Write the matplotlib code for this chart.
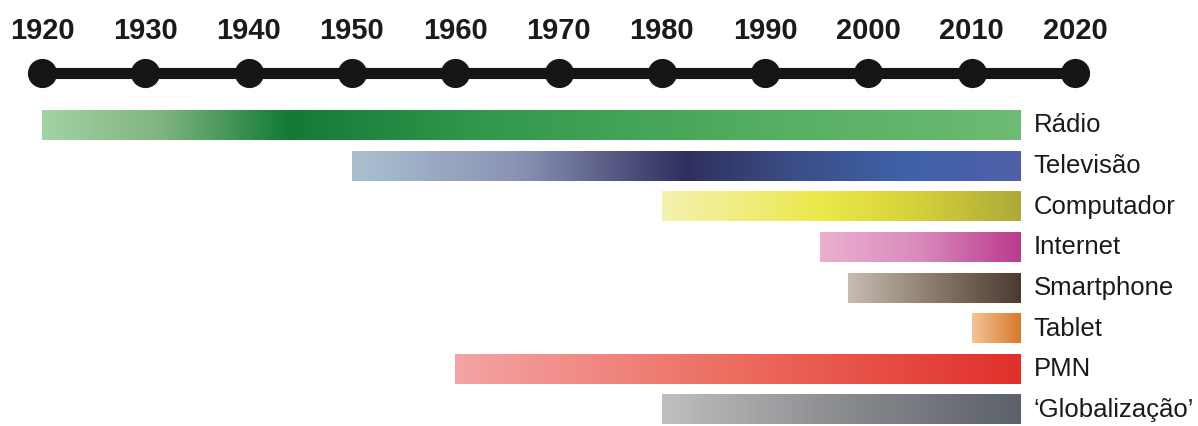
import numpy as np
import matplotlib.pyplot as plt
from matplotlib.colors import LinearSegmentedColormap

# data
years = [1920, 1930, 1940, 1950, 1960, 1970, 1980, 1990, 2000, 2010, 2020]
techs = ['Rádio', 'Televisão', 'Computador', 'Internet', 'Smartphone', 'Tablet', 'PMN', '\u2018Globalização\u2019']
starts = [1920, 1950, 1980, 1995.3, 1998, 2010, 1960, 1980]
ends = [2014.7, 2014.7, 2014.7, 2014.7, 2014.7, 2014.7, 2014.7, 2014.7]
# gradient stops (position along bar, colour)
gradients = [
    [(0, '#a3d3a3'), (0.12, '#7fb47f'), (0.25, '#127a35'), (0.45, '#32984c'), (0.75, '#55af62'), (1, '#6ebb73')],
    [(0, '#aac0d0'), (0.25, '#8a92b4'), (0.5, '#2f2f5e'), (0.65, '#3a4c84'), (0.83, '#3f62a8'), (1, '#5060a8')],
    [(0, '#f4f2b0'), (0.45, '#ebe84a'), (0.7, '#d6d23a'), (1, '#aeaa3a')],
    [(0, '#eab0d0'), (0.5, '#d88abc'), (1, '#bb3a8c')],
    [(0, '#c6bcb0'), (0.5, '#8a7a6c'), (1, '#4a3a30')],
    [(0, '#f4c498'), (1, '#d87a28')],
    [(0, '#f4a4a4'), (0.5, '#ec6c5e'), (1, '#e0302a')],
    [(0, '#bfbfbf'), (0.5, '#8a8c90'), (1, '#5c6068')],
]

W, H = 1198, 426
fig = plt.figure(figsize=(W / 100, H / 100), dpi=100)
ax = fig.add_axes([0, 0, 1, 1])
ax.axis('off')

px_per_year = (1075 - 42) / 100
row_px = 40.6
row0 = 125.5

# timeline
line_y = (73 - row0) / row_px
label_y = (31 - row0) / row_px
ax.plot([years[0], years[-1]], [line_y, line_y], color='#151515', lw=8, solid_capstyle='butt', zorder=2)
ax.scatter(years, [line_y] * len(years), s=400, color='#151515', zorder=3)
for yr in years:
    ax.text(yr, label_y, str(yr), ha='center', va='center', fontsize=21, fontweight='bold',
            family='Liberation Sans', color='#1a1a1a')

# bars
bh = 0.72
for i, (name, s, e, cols) in enumerate(zip(techs, starts, ends, gradients)):
    cmap = LinearSegmentedColormap.from_list(name, cols)
    grad = np.linspace(0, 1, 256).reshape(1, -1)
    ax.imshow(grad, cmap=cmap, aspect='auto', extent=[s, e, i + bh / 2, i - bh / 2],
              interpolation='bicubic', zorder=1)
    ax.text(e + 1.3, i, name, ha='left', va='center', fontsize=18.5, family='Liberation Sans',
            color='#1a1a1a')

ax.set_xlim(1920 - 42 / px_per_year, 1920 + (W - 42) / px_per_year)
ax.set_ylim((H - row0) / row_px, -row0 / row_px)

fig.savefig('out.png', dpi=100)
